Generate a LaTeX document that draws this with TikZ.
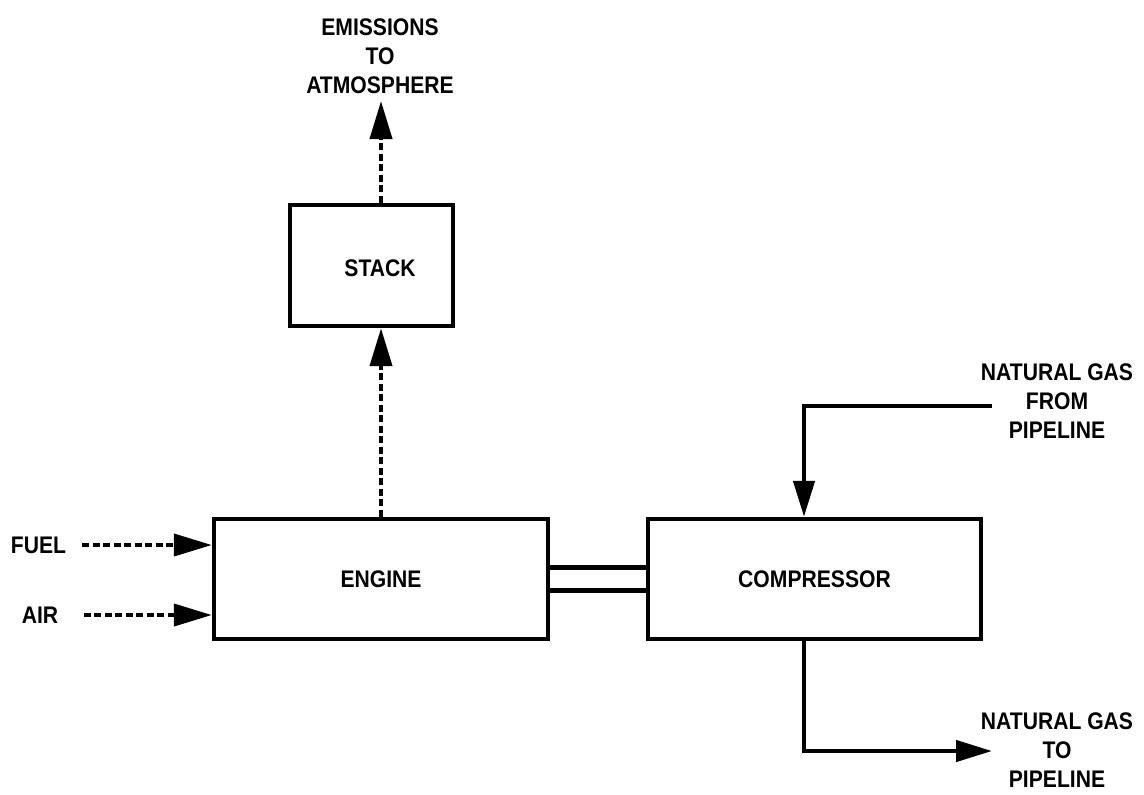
\documentclass[tikz,border=0pt]{standalone}
\usepackage{fontspec}
\setmainfont{Liberation Sans}[FakeStretch=0.88]
\usetikzlibrary{arrows.meta}
\tikzset{
  block/.style={draw, line width=2.2pt, inner sep=0pt},
  txt/.style={font=\fontsize{12}{14.5}\selectfont\bfseries, align=center},
  sidetxt/.style={txt, minimum width=43.5pt, inner sep=0pt},
  flow/.style={line width=2pt, dash pattern=on 3.5pt off 1.75pt, -{Triangle[length=19pt,width=11pt]}},
  pipe/.style={line width=2.2pt, -{Triangle[length=18pt,width=10.5pt]}},
  shaft/.style={line width=2.2pt}
}
\begin{document}
\begin{tikzpicture}[x=0.5pt, y=-0.5pt]
\useasboundingbox (0, 0) rectangle (1144, 794);
%%% The boxes of the unit
\node[block, minimum width=81.5pt, minimum height=60.5pt] (stack) at (371.5, 265.5) {};
\node[txt] at (380, 268) {STACK};
\node[block, txt, minimum width=167pt, minimum height=60pt] (engine) at (381, 579) {ENGINE};
\node[block, txt, minimum width=166.5pt, minimum height=60pt] (compressor) at (814.5, 579) {COMPRESSOR};
%%% The texts of the streams
\node[txt, anchor=south] (emissions) at (380, 101) {EMISSIONS\\TO\\ATMOSPHERE};
\node[sidetxt] (fuel) at (38.5, 545) {FUEL};
\node[sidetxt] (air) at (40, 615) {AIR};
\node[txt, anchor=south] (gasin) at (1057, 446) {NATURAL GAS\\FROM\\PIPELINE};
\node[txt, anchor=south, inner sep=2pt] (gasout) at (1057, 792) {NATURAL GAS\\TO\\PIPELINE};
% \coordinate for the free ends of the gas lines
\coordinate (gasinend) at (992, 406);
\coordinate (gasoutend) at (992, 751);
\coordinate (inlet) at ([xshift=-5.25pt]compressor.north);
\coordinate (outlet) at ([xshift=-5.25pt]compressor.south);
%%%%%% The shaft between engine and compressor
\draw[shaft] ([yshift=5.75pt]engine.east) -- ([yshift=5.75pt]engine.east -| compressor.west);
\draw[shaft] ([yshift=-5.75pt]engine.east) -- ([yshift=-5.75pt]engine.east -| compressor.west);
%%%%%% The dashed streams of fuel, air and exhaust
\draw[flow] (fuel.east) -- (fuel.east -| engine.west);
\draw[flow] (air.east) -- (air.east -| engine.west);
\draw[flow] (engine.north) -- (engine.north |- stack.south);
\draw[flow] (stack.north -| engine.north) -- (emissions.south -| engine.north);
%%%%%% The gas lines
\draw[pipe] (gasinend) -| (inlet);
\draw[pipe] (outlet) |- (gasoutend);
\end{tikzpicture}
\end{document}
